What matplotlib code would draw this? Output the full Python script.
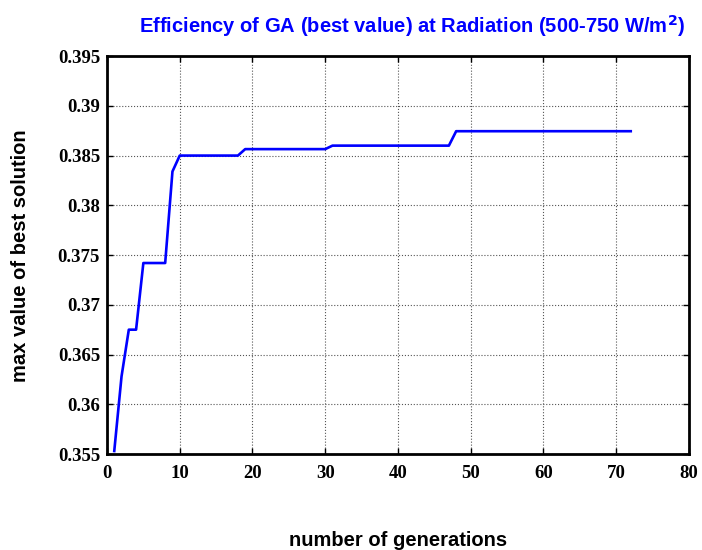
import numpy as np
import matplotlib
matplotlib.use('Agg')
import matplotlib.pyplot as plt

# ================================
# data

generations = [1, 2, 3, 4, 5, 8, 9, 10, 18, 19, 30, 31, 47, 48, 72]
best_value = [0.3553, 0.3628, 0.3675, 0.3675, 0.3742, 0.3742, 0.3834, 0.3850,
              0.3850, 0.38565, 0.38565, 0.3860, 0.3860, 0.38745, 0.38745]

x_ticks = [0, 10, 20, 30, 40, 50, 60, 70, 80]
y_ticks = [0.355, 0.36, 0.365, 0.37, 0.375, 0.38, 0.385, 0.39, 0.395]
y_tick_labels = ['0.355', '0.36', '0.365', '0.37', '0.375', '0.38', '0.385', '0.39', '0.395']

# ================================
# plot

fig = plt.figure(figsize=(7.02, 5.5), dpi=100)
ax = fig.add_axes([0.1524, 0.1745, 0.829, 0.7235])

ax.plot(generations, best_value, color='#0000ff', linewidth=1.9)

ax.set_xlim(0, 80)
ax.set_ylim(0.355, 0.395)
ax.set_xticks(x_ticks)
ax.set_yticks(y_ticks)
ax.set_yticklabels(y_tick_labels)

tick_font = {'family': 'Liberation Serif', 'weight': 'bold', 'size': 13.5}
for lab in ax.get_xticklabels() + ax.get_yticklabels():
    lab.set_fontproperties(matplotlib.font_manager.FontProperties(**tick_font))

ax.tick_params(direction='in', length=4, width=1, top=True, right=True,
               colors='black')
ax.tick_params(axis='x', pad=8)
ax.tick_params(axis='y', pad=5)
for s in ax.spines.values():
    s.set_linewidth(2)

ax.grid(True, linestyle=':', color='#555555', linewidth=0.8)

# title / labels placed like the matlab figure
fig.text(0.587, 0.952, 'Efficiency of GA (best value) at Radiation (500-750 W/m$^\\mathbf{2}$)',
         color='#0000ff', fontsize=14.5, fontweight='bold',
         family='Liberation Sans', ha='center', va='center')
fig.text(0.0285, 0.536, 'max value of best solution', fontsize=14.5, fontweight='bold',
         family='Liberation Sans', ha='center', va='center', rotation=90)
fig.text(0.567, 0.017, 'number of generations', fontsize=14.5, fontweight='bold',
         family='Liberation Sans', ha='center', va='center')

fig.savefig('out.png', dpi=100, facecolor='white')
